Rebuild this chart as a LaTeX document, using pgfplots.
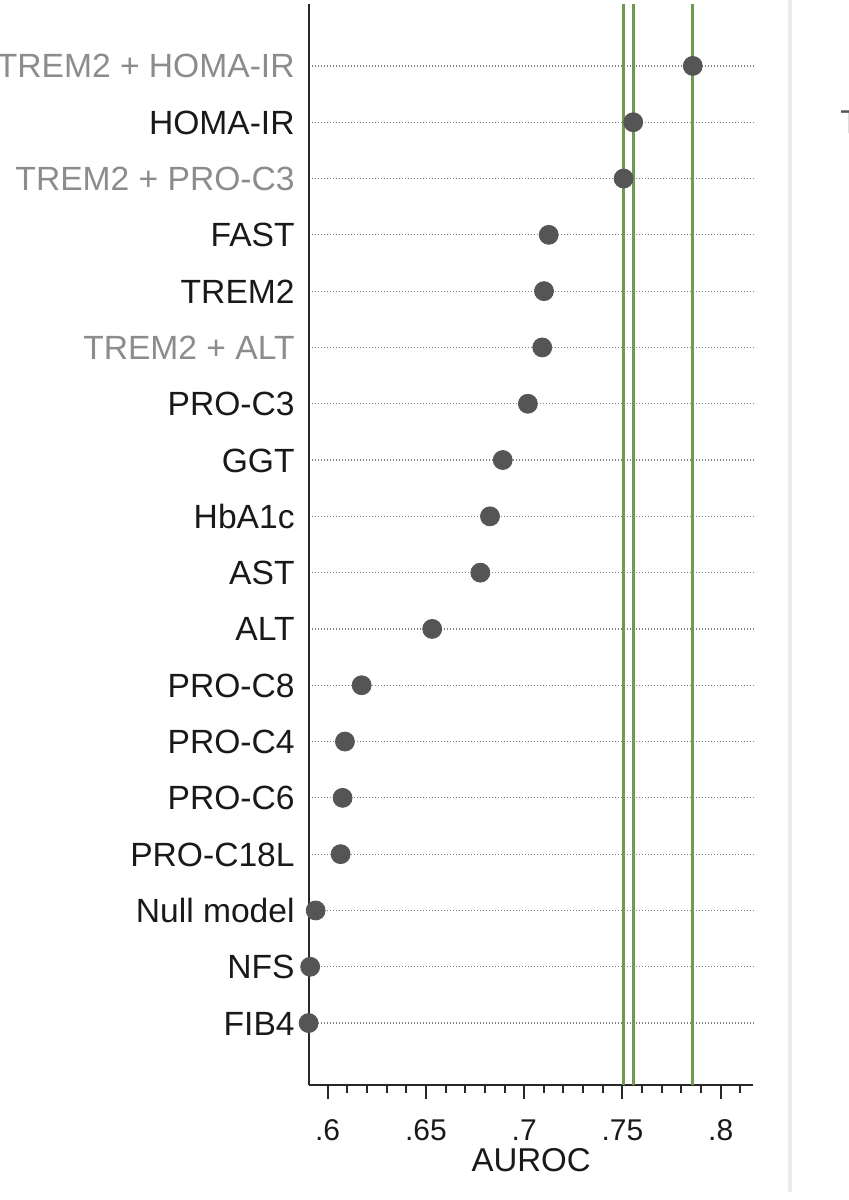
\documentclass[border=0pt]{standalone}
\usepackage{fontspec}
\setmainfont{Liberation Sans}
\usepackage{pgfplots}
\pgfplotsset{compat=1.18}
\definecolor{dotc}{RGB}{85,85,85}
\definecolor{greenl}{RGB}{112,154,82}
\definecolor{labgray}{RGB}{140,140,140}
\definecolor{labblack}{RGB}{25,25,25}
\definecolor{axc}{RGB}{40,40,40}
\definecolor{sepc}{RGB}{236,236,236}
\begin{document}
\begin{tikzpicture}
\begin{axis}[
  name=ax,
  at={(0,0)}, anchor=south west,
  scale only axis,
  width=222.15pt, height=540.5pt,
  xmin=0.5905, xmax=0.8166,
  ymin=-0.1, ymax=19.1,
  clip=false,
  axis x line*=bottom, axis y line*=left,
  axis line style={line width=1pt, color=axc},
  /pgf/number format/assume math mode=true,
  xtick={0.6,0.65,0.7,0.75,0.8},
  xticklabels={.6,.65,.7,.75,.8},
  minor xtick={0.59,0.61,0.62,0.63,0.64,0.66,0.67,0.68,0.69,0.71,0.72,0.73,0.74,0.76,0.77,0.78,0.79,0.81},
  tick align=outside,
  major tick length=7pt, minor tick length=4pt,
  xtick style={line width=1pt, color=axc},
  x tick label style={font=\fontsize{15}{17}\selectfont, color=labblack, anchor=base, inner sep=0pt, yshift=-20.5pt},
  ytick={1,...,18},
  yticklabels={FIB4,NFS,Null model,PRO-C18L,PRO-C6,PRO-C4,PRO-C8,ALT,AST,HbA1c,GGT,PRO-C3,{\color{labgray}TREM2 + ALT},TREM2,FAST,{\color{labgray}TREM2 + PRO-C3},HOMA-IR,{\color{labgray}TREM2 + HOMA-IR}},
  ytick style={draw=none},
  y tick label style={font=\fontsize{16.8}{19}\selectfont, color=labblack, anchor=base east, inner sep=0pt, xshift=0pt, yshift=-6pt},
  ymajorgrids,
  major grid style={dash pattern=on 0.6pt off 0.9pt, line width=0.6pt, color=gray},
  xlabel={AUROC},
  xlabel style={at={(axis description cs:0.5,0)}, anchor=base, inner sep=0pt, yshift=-43.3pt, font=\fontsize{16.5}{19}\selectfont, color=labblack},
]
\addplot[greenl, line width=1.5pt, forget plot] coordinates {(0.7504,-0.1) (0.7504,19.1)};
\addplot[greenl, line width=1.5pt, forget plot] coordinates {(0.7555,-0.1) (0.7555,19.1)};
\addplot[greenl, line width=1.5pt, forget plot] coordinates {(0.7857,-0.1) (0.7857,19.1)};
\addplot[only marks, mark=*, mark size=4.75pt, color=dotc, mark options={draw=dotc, fill=dotc}] coordinates {
(0.5903,1) (0.5911,2) (0.5939,3) (0.6066,4) (0.6076,5) (0.6088,6) (0.6173,7)
(0.6532,8) (0.6777,9) (0.6826,10) (0.6891,11) (0.7019,12) (0.7092,13) (0.7101,14)
(0.7125,15) (0.7506,16) (0.7555,17) (0.7858,18)};
\end{axis}
\fill[sepc] ([shift={(239.5pt,-53.5pt)}]ax.south west) rectangle ++(2pt,596pt);
\node[anchor=base west, inner sep=0pt, font=\fontsize{16.5}{19}\selectfont, color=dotc] at ([shift={(265.5pt,475.75pt)}]ax.south west) {T};
\pgfresetboundingbox
\path[use as bounding box] ([shift={(-154.5pt,-57.5pt)}]ax.south west) rectangle ++(424.5pt,600pt);
\end{tikzpicture}
\end{document}
